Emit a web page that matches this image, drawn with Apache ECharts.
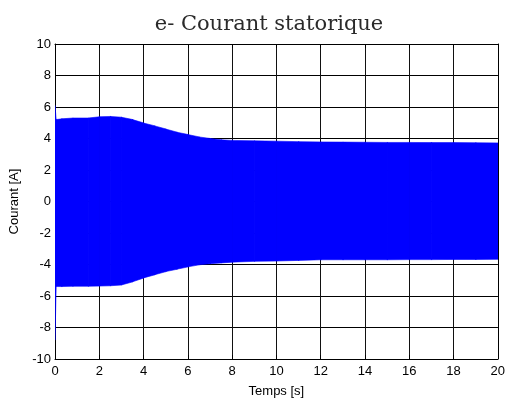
<!DOCTYPE html>
<html>
<head>
<meta charset="utf-8">
<script src="https://cdn.jsdelivr.net/npm/echarts@6/dist/echarts.min.js"></script>
<style>html,body{margin:0;padding:0;background:#fff;}#c{width:508px;height:403px;}</style>
</head>
<body>
<div id="c"></div>
<script>
// Envelope of the stator current (time in s, current in A)
var times = [0, 0.03, 0.3, 0.8, 1.5, 2.0, 2.5, 3.0, 3.5, 4.0, 4.5, 5.0, 5.5, 6.0, 6.5, 7.0, 7.5, 8.0, 9.0, 10.0, 11.0, 12.0, 13.0, 14.0, 15.0, 16.0, 17.0, 18.0, 19.0, 20.0];
var upper = [6.1, 5.2, 5.25, 5.3, 5.3, 5.38, 5.4, 5.35, 5.2, 4.98, 4.8, 4.6, 4.4, 4.25, 4.1, 4.0, 3.92, 3.88, 3.85, 3.83, 3.8, 3.78, 3.77, 3.76, 3.75, 3.75, 3.74, 3.74, 3.73, 3.72];
var lower = [-8.8, -5.4, -5.4, -5.38, -5.38, -5.37, -5.35, -5.3, -5.1, -4.85, -4.65, -4.45, -4.3, -4.15, -4.02, -3.95, -3.9, -3.85, -3.8, -3.78, -3.74, -3.7, -3.7, -3.7, -3.7, -3.69, -3.69, -3.68, -3.68, -3.67];
var xTicks = [0, 2, 4, 6, 8, 10, 12, 14, 16, 18, 20];
var yTicks = [-10, -8, -6, -4, -2, 0, 2, 4, 6, 8, 10];

var chart = echarts.init(document.getElementById('c'), null, {renderer: 'canvas'});
var data = times.map(function (t, i) { return [t, upper[i], lower[i]]; });
var font = 'Liberation Sans';
var grid = {left: 54, top: 44, width: 444, height: 318};
function axisCommon(show) {
  return {
    axisLine: {show: true, onZero: false, lineStyle: {color: '#000', width: 1}},
    axisTick: {show: true, inside: true, length: 4, lineStyle: {color: '#000'}},
    axisLabel: {show: show, color: '#000', fontFamily: font, fontSize: 13},
    splitLine: {show: false}
  };
}
var option = {
  animation: false,
  backgroundColor: '#fff',
  title: {
    text: 'e- Courant statorique',
    left: 264, top: 9, textAlign: 'center',
    textStyle: {fontFamily: 'DejaVu Serif', fontWeight: 'normal', fontSize: 21, color: '#2a2a2a'}
  },
  grid: grid,
  xAxis: [
    Object.assign(axisCommon(true), {
      type: 'value', position: 'bottom', min: 0, max: 20, interval: 2,
      name: 'Temps [s]', nameLocation: 'middle', nameGap: 26,
      nameTextStyle: {fontFamily: font, fontSize: 13, color: '#000'},
      axisLabel: {show: true, color: '#000', fontFamily: font, fontSize: 13, margin: 6,
        formatter: function (v) { return xTicks.indexOf(v) >= 0 ? String(v) : ''; }},
      splitLine: {show: true, lineStyle: {color: '#111', width: 1, type: 'solid'}}
    }),
    Object.assign(axisCommon(false), {
      type: 'value', position: 'top', min: 0, max: 20, interval: 2
    })
  ],
  yAxis: [
    Object.assign(axisCommon(true), {
      type: 'value', position: 'left', min: -10, max: 10, interval: 2,
      name: 'Courant [A]', nameLocation: 'middle', nameGap: 34, nameRotate: 90,
      nameTextStyle: {fontFamily: font, fontSize: 13, color: '#000'},
      axisLabel: {show: true, color: '#000', fontFamily: font, fontSize: 13, margin: 4,
        formatter: function (v) { return yTicks.indexOf(v) >= 0 ? String(v) : ''; }},
      splitLine: {show: true, lineStyle: {color: '#000', width: 1, type: 'solid'}}
    }),
    Object.assign(axisCommon(false), {
      type: 'value', position: 'right', min: -10, max: 10, interval: 2
    })
  ],
  series: [{
    type: 'custom',
    xAxisIndex: 0, yAxisIndex: 0,
    clip: true,
    data: data,
    renderItem: function (params, api) {
      var i = params.dataIndex;
      if (i >= times.length - 1) return null;
      var p1 = api.coord([times[i], upper[i]]);
      var p2 = api.coord([times[i + 1], upper[i + 1]]);
      var p3 = api.coord([times[i + 1], lower[i + 1]]);
      var p4 = api.coord([times[i], lower[i]]);
      return {
        type: 'polygon',
        shape: {points: [p1, [p2[0] + 0.5, p2[1]], [p3[0] + 0.5, p3[1]], p4]},
        style: {fill: '#0000ff', stroke: '#0000ff', lineWidth: 0.6}
      };
    },
    z: 5
  }]
};
chart.setOption(option);
</script>
</body>
</html>
